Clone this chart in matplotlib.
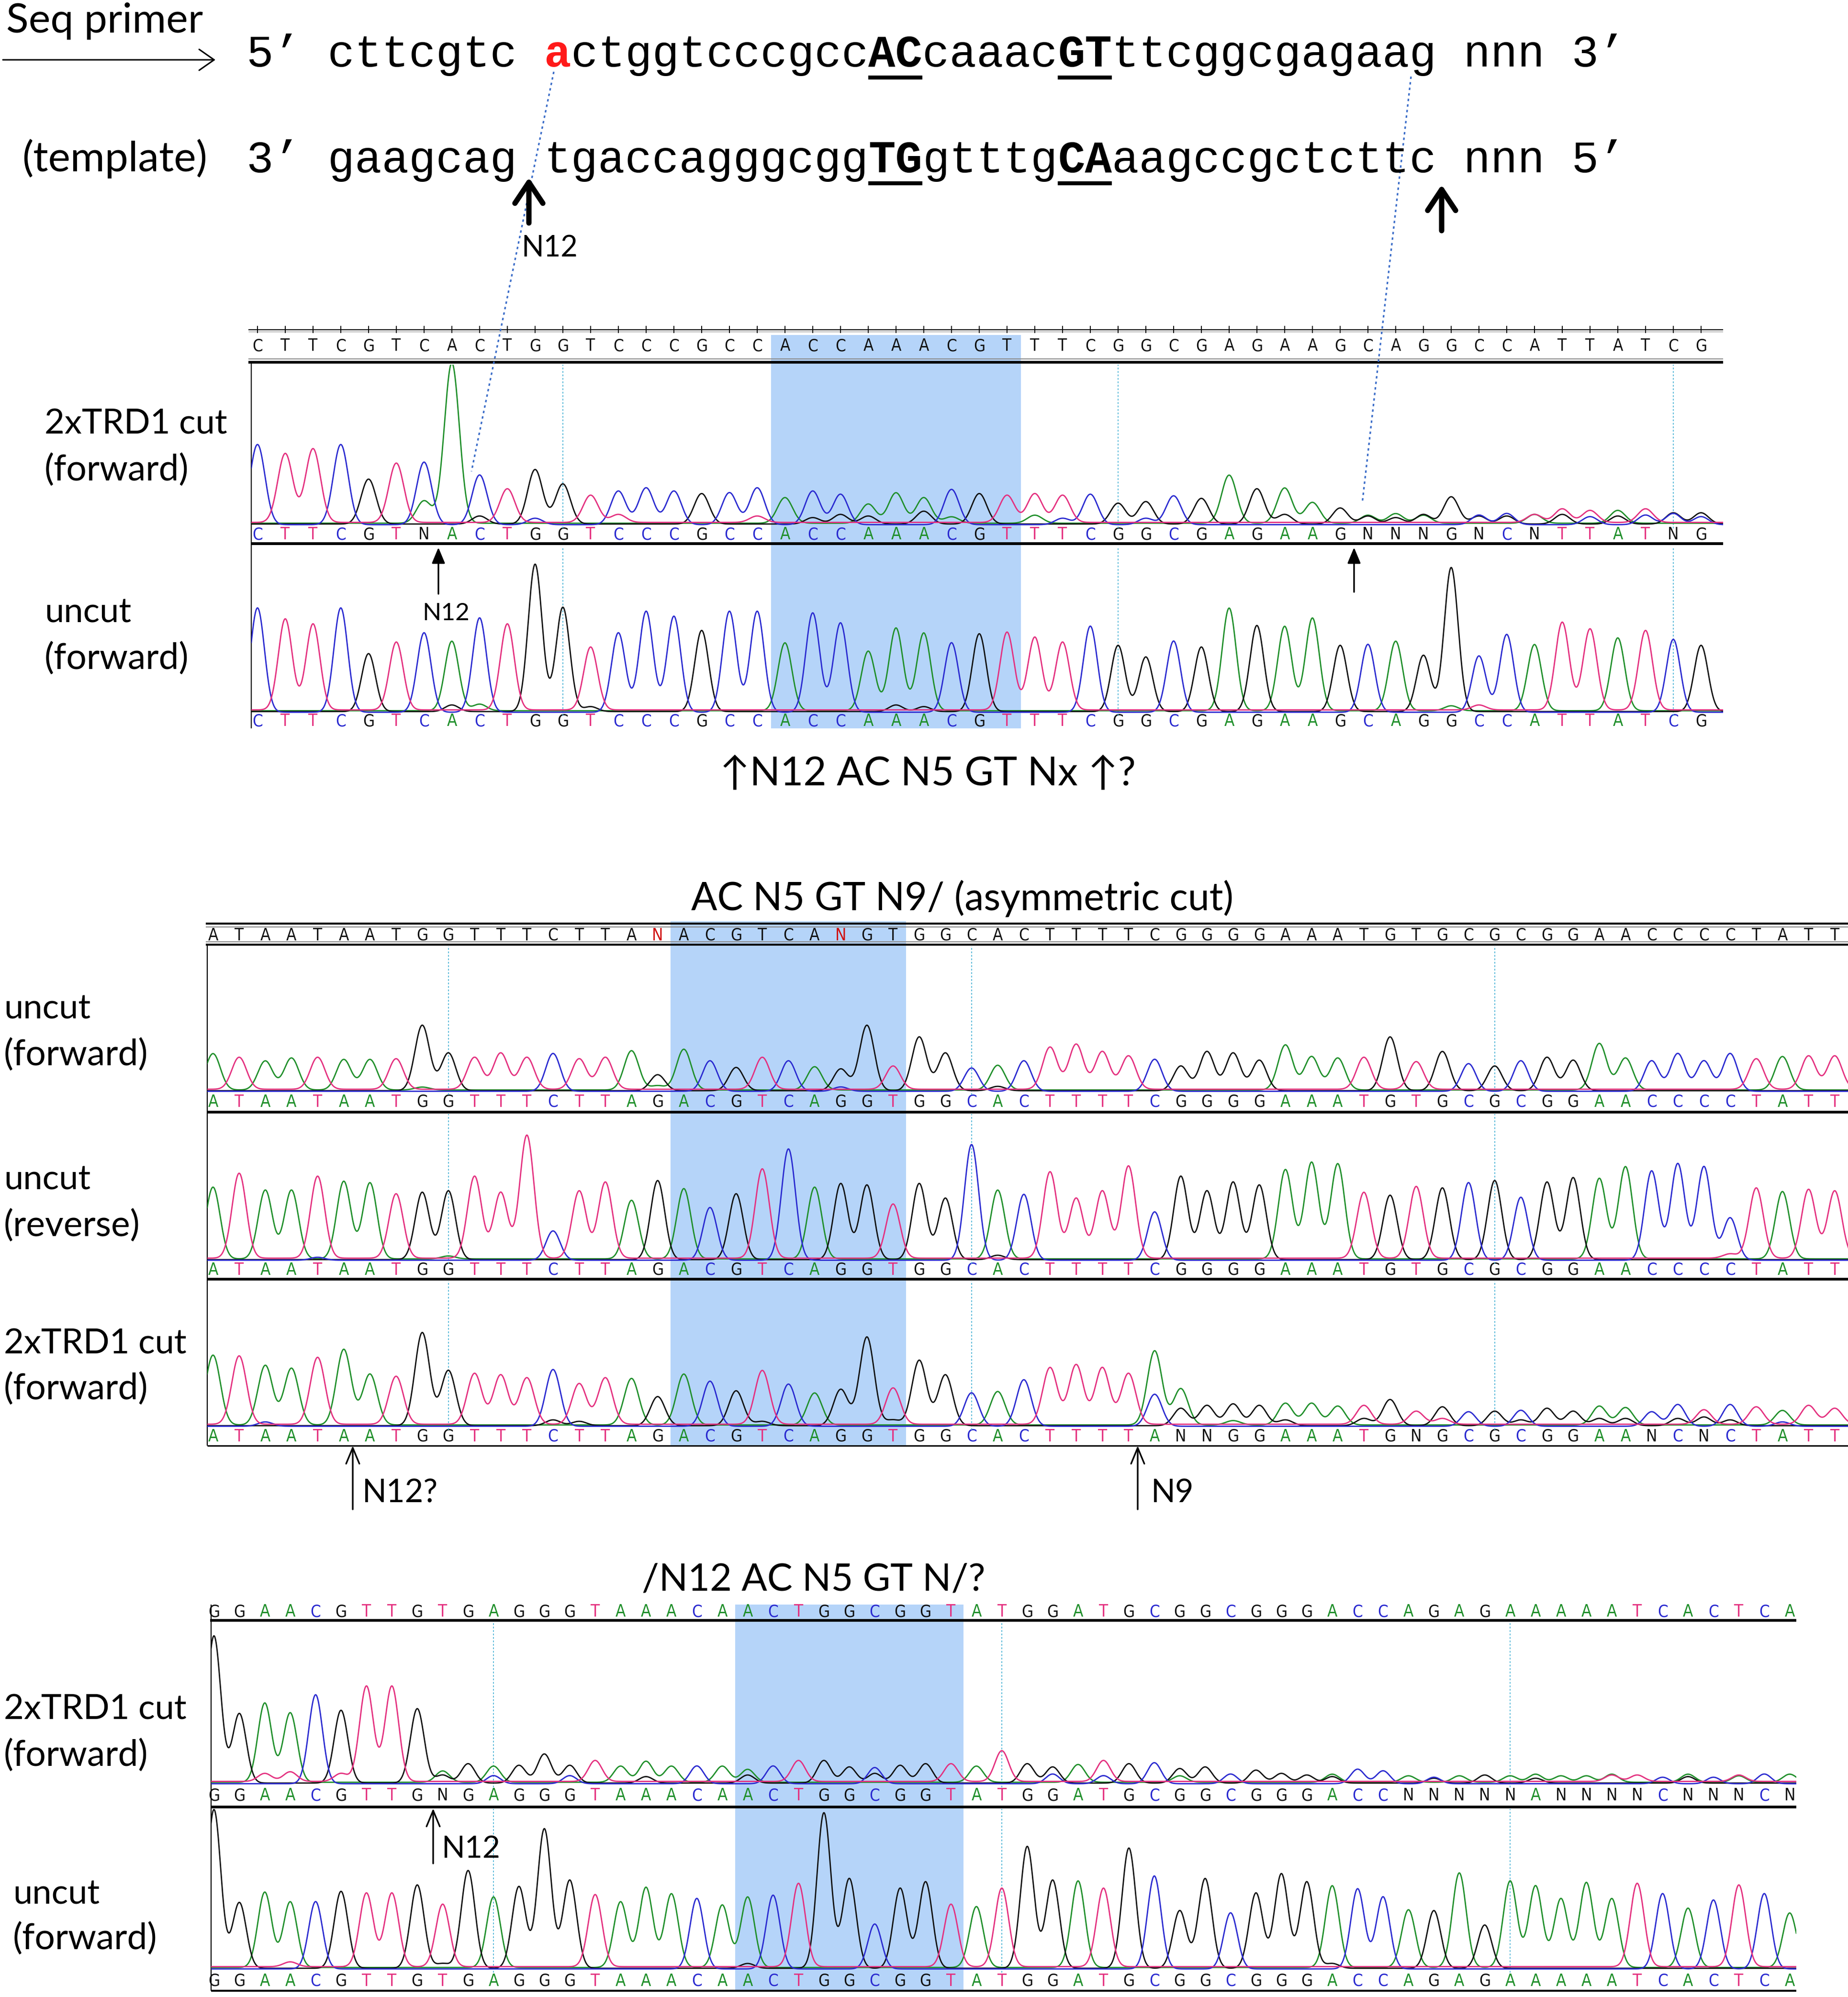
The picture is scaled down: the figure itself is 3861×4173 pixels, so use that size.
import numpy as np
import matplotlib
matplotlib.use("Agg")
import matplotlib.pyplot as plt

W, H, DPI = 3862, 4173, 100

# ------------------------------------------------------------------ data
primer_segments = [("5\u2019 cttcgtc ", "plain"), ("a", "red"), ("ctggtcccgcc", "plain"),
                   ("AC", "boldul"), ("caaac", "plain"), ("GT", "boldul"),
                   ("ttcggcgagaag nnn 3\u2019", "plain")]
template_segments = [("3\u2019 gaagcag ", "plain"), ("tgaccagggcgg", "plain"), ("TG", "boldul"),
                     ("gtttg", "plain"), ("CA", "boldul"), ("aagccgctcttc nnn 5\u2019", "plain")]

# panel 1 : sequence, base calls, peak channel and peak heights
p1_ref = "CTTCGTCACTGGTCCCGCCACCAAACGTTTCGGCGAGAAGCAGGCCATTATCG"
p1_cut_calls = "CTTCGTNACTGGTCCCGCCACCAAACGTTTCGGCGAGAAGNNNGNCNTTATNG"
p1_cut_peaks = "CTTCGTCACTGGTCCCGCCACCAAACGTTTCGGCGAGAAGGAGGGCATTATCG"
p1_cut_h = [0.50, 0.43, 0.46, 0.50, 0.28, 0.37, 0.39, 1.00, 0.31, 0.21,
            0.34, 0.25, 0.17, 0.21, 0.23, 0.21, 0.19, 0.20, 0.23, 0.16,
            0.21, 0.19, 0.12, 0.19, 0.16, 0.22, 0.19, 0.17, 0.18, 0.17,
            0.19, 0.13, 0.14, 0.18, 0.16, 0.30, 0.18, 0.22, 0.13, 0.10,
            0.05, 0.06, 0.06, 0.17, 0.05, 0.07, 0.055, 0.085, 0.075, 0.08,
            0.085, 0.07, 0.07]
p1_cut_minor = [(6, 'A', 0.14), (8, 'G', 0.05), (10, 'C', 0.04), (13, 'T', 0.05), (18, 'T', 0.04),
                (20, 'G', 0.04), (21, 'G', 0.06), (22, 'G', 0.05), (24, 'G', 0.08), (25, 'A', 0.04),
                (28, 'A', 0.05), (29, 'C', 0.04), (32, 'C', 0.04), (36, 'G', 0.04), (37, 'G', 0.06),
                (40, 'A', 0.05), (41, 'G', 0.04), (42, 'A', 0.05), (44, 'C', 0.06), (45, 'G', 0.05),
                (46, 'T', 0.05), (47, 'G', 0.06), (48, 'C', 0.05), (49, 'G', 0.05), (50, 'C', 0.06),
                (51, 'G', 0.07), (52, 'C', 0.05)]
p1_unc_calls = p1_ref
p1_unc_h = [0.63, 0.55, 0.52, 0.63, 0.35, 0.41, 0.48, 0.42, 0.57, 0.52,
            0.89, 0.63, 0.38, 0.48, 0.61, 0.58, 0.49, 0.61, 0.61, 0.41,
            0.60, 0.54, 0.36, 0.50, 0.47, 0.42, 0.47, 0.47, 0.44, 0.41,
            0.52, 0.40, 0.33, 0.43, 0.39, 0.62, 0.52, 0.51, 0.56, 0.40,
            0.41, 0.42, 0.34, 0.87, 0.34, 0.47, 0.40, 0.53, 0.49, 0.44,
            0.48, 0.44, 0.40]
p1_unc_minor = [(7, 'G', 0.04), (8, 'A', 0.04), (12, 'G', 0.03), (23, 'G', 0.04),
                (24, 'G', 0.03), (43, 'A', 0.03), (44, 'T', 0.03)]

# panel 2
p2_ref = "ATAATAATGGTTTCTTANACGTCANGTGGCACTTTTCGGGGAAATGTGCGCGGAACCCCTATT"
p2_unc_calls = "ATAATAATGGTTTCTTAGACGTCAGGTGGCACTTTTCGGGGAAATGTGCGCGGAACCCCTATT"
p2_fwd_h = [0.25, 0.22, 0.20, 0.22, 0.22, 0.21, 0.21, 0.21, 0.45, 0.26,
            0.22, 0.25, 0.22, 0.26, 0.21, 0.22, 0.27, 0.11, 0.28, 0.21,
            0.16, 0.22, 0.21, 0.16, 0.15, 0.45, 0.16, 0.37, 0.26, 0.16,
            0.17, 0.21, 0.29, 0.31, 0.26, 0.23, 0.22, 0.17, 0.27, 0.26,
            0.21, 0.31, 0.23, 0.22, 0.22, 0.37, 0.19, 0.27, 0.19, 0.17,
            0.21, 0.23, 0.21, 0.32, 0.22, 0.21, 0.26, 0.21, 0.26, 0.21,
            0.23, 0.23, 0.23]
p2_fwd_minor = [(8, 'A', 0.02), (17, 'A', 0.03), (24, 'C', 0.03), (30, 'G', 0.03)]
p2_rev_h = [0.49, 0.58, 0.47, 0.47, 0.56, 0.53, 0.52, 0.44, 0.46, 0.47,
            0.56, 0.45, 0.84, 0.20, 0.46, 0.52, 0.40, 0.54, 0.48, 0.36,
            0.45, 0.61, 0.76, 0.49, 0.52, 0.51, 0.37, 0.52, 0.42, 0.79,
            0.47, 0.45, 0.59, 0.41, 0.46, 0.63, 0.33, 0.57, 0.47, 0.53,
            0.51, 0.61, 0.66, 0.65, 0.45, 0.44, 0.49, 0.49, 0.53, 0.54,
            0.43, 0.53, 0.56, 0.55, 0.63, 0.61, 0.66, 0.64, 0.29, 0.48,
            0.46, 0.47, 0.46]
p2_rev_minor = [(4, 'C', 0.02), (9, 'A', 0.02), (30, 'G', 0.03), (58, 'T', 0.03)]
p2_cut_calls = "ATAATAATGGTTTCTTAGACGTCAGGTGGCACTTTTANNGGAAATGNGCGCGGAANCNCTATT"
p2_cut_peaks = "ATAATAATGGTTTCTTAGACGTCAGGTGGCACTTTTAAGGGAAATGTGCGCGGAACCTCTATT"
p2_cut_h = [0.48, 0.47, 0.41, 0.39, 0.46, 0.52, 0.35, 0.33, 0.64, 0.38,
            0.35, 0.34, 0.32, 0.39, 0.28, 0.32, 0.32, 0.20, 0.35, 0.31,
            0.24, 0.37, 0.29, 0.22, 0.25, 0.61, 0.25, 0.45, 0.35, 0.23,
            0.23, 0.32, 0.39, 0.41, 0.39, 0.35, 0.51, 0.25, 0.14, 0.15,
            0.14, 0.15, 0.15, 0.13, 0.13, 0.18, 0.09, 0.13, 0.10, 0.10,
            0.11, 0.12, 0.10, 0.13, 0.12, 0.10, 0.15, 0.10, 0.15, 0.12,
            0.10, 0.13, 0.11]
p2_cut_minor = [(2, 'C', 0.03), (13, 'G', 0.04), (14, 'G', 0.03), (21, 'G', 0.03), (26, 'G', 0.04),
                (36, 'C', 0.22), (37, 'G', 0.12), (39, 'A', 0.03), (41, 'G', 0.04), (44, 'G', 0.05),
                (47, 'T', 0.04), (50, 'G', 0.04), (53, 'G', 0.05), (54, 'G', 0.05), (56, 'G', 0.05),
                (57, 'G', 0.06), (58, 'G', 0.04), (60, 'C', 0.03)]

# panel 3
p3_ref = "GGAACGTTGTGAGGGTAAACAACTGGCGGTATGGATGCGGCGGGACCAGAGAAAAATCACTCA"
p3_cut_calls = "GGAACGTTGNGAGGGTAAACAACTGGCGGTATGGATGCGGCGGGACCNNNNNANNNNCNNNCN"
p3_cut_peaks = "GGAACGTTGAGAGGGTAAACAACTGGCGGTATGGATGCGGCGGGACCAGAGAAAAATCACTCA"
p3_cut_h = [0.91, 0.43, 0.49, 0.43, 0.55, 0.45, 0.59, 0.59, 0.46, 0.07,
            0.12, 0.10, 0.11, 0.18, 0.11, 0.13, 0.10, 0.13, 0.10, 0.11,
            0.10, 0.08, 0.11, 0.13, 0.14, 0.10, 0.10, 0.11, 0.12, 0.11,
            0.10, 0.19, 0.12, 0.10, 0.11, 0.13, 0.12, 0.13, 0.09, 0.10,
            0.06, 0.08, 0.06, 0.05, 0.05, 0.09, 0.08, 0.04, 0.03, 0.04,
            0.05, 0.04, 0.05, 0.04, 0.04, 0.05, 0.04, 0.04, 0.05, 0.04,
            0.04, 0.06, 0.05]
p3_cut_minor = [(2, 'T', 0.05), (3, 'T', 0.06), (5, 'T', 0.05), (9, 'G', 0.05), (11, 'C', 0.05),
                (14, 'C', 0.05), (17, 'G', 0.04), (21, 'G', 0.05), (26, 'G', 0.06), (33, 'C', 0.06),
                (35, 'C', 0.05), (38, 'A', 0.04), (44, 'G', 0.04), (48, 'C', 0.04), (52, 'G', 0.03),
                (55, 'T', 0.04), (58, 'G', 0.04), (60, 'A', 0.04)]
p3_unc_h = [0.99, 0.41, 0.47, 0.41, 0.42, 0.48, 0.46, 0.46, 0.52, 0.39,
            0.61, 0.44, 0.51, 0.87, 0.55, 0.45, 0.41, 0.50, 0.46, 0.44,
            0.39, 0.44, 0.46, 0.52, 0.97, 0.56, 0.28, 0.50, 0.54, 0.39,
            0.38, 0.49, 0.76, 0.55, 0.54, 0.49, 0.75, 0.58, 0.36, 0.56,
            0.35, 0.47, 0.59, 0.54, 0.51, 0.50, 0.45, 0.36, 0.36, 0.59,
            0.27, 0.54, 0.51, 0.43, 0.53, 0.43, 0.52, 0.47, 0.37, 0.43,
            0.51, 0.47, 0.34]
p3_unc_minor = [(3, 'T', 0.03), (9, 'G', 0.03), (21, 'G', 0.03), (44, 'G', 0.03)]

# highlighted motif (first, last base index) and marker positions per panel
p1_box = (19, 27)
p2_box = (18, 26)
p3_box = (21, 29)
p1_marks = [11, 31, 51]
p2_marks = [9, 29, 49]
p3_marks = [11, 31, 51]

titles = ["\u2191N12 AC N5 GT Nx \u2191?", "AC N5 GT N9/ (asymmetric cut)", "/N12 AC N5 GT N/?"]

# ------------------------------------------------------------------ style
COL = {'A': '#1f8f2a', 'C': '#2a2ad0', 'G': '#111111', 'T': '#e4307f', 'N': '#111111'}
OFF = {'A': 0.011, 'C': 0.002, 'G': 0.006, 'T': 0.016}
SHADE = '#b5d4f9'
DOT = '#4ab3d6'
LAB = dict(family=['Lato', 'DejaVu Sans'], color='black')
LET = dict(family='DejaVu Sans', fontsize=25, fontstretch='condensed', ha='center', va='center')

fig = plt.figure(figsize=(W / DPI, H / DPI), dpi=DPI)
fig.patch.set_facecolor('white')


def rect(l, t, r, b):
    return [l / W, 1 - b / H, (r - l) / W, (b - t) / H]


def idx(P, px):
    return (px - P['x0']) / P['s']


def panel_axes(P):
    ax = fig.add_axes(rect(P['left'], P['top'], P['right'], P['bottom']), zorder=1)
    ax.set_facecolor('none')
    ax.set_xlim(idx(P, P['left']), idx(P, P['right']))
    ax.set_ylim(P['bottom'], P['top'])
    ax.axis('off')
    return ax


def hline(ax, P, y, lw, color='black', x_from=None):
    xa = idx(P, P['left'] if x_from is None else x_from)
    ax.hlines(y, xa, idx(P, P['right']), color=color, lw=lw)


def base_row(ax, y, calls, colored=True, red_n=False):
    for i, b in enumerate(calls):
        if colored:
            c = COL[b]
        else:
            c = '#d01010' if (red_n and b == 'N') else '#111111'
        ax.text(i, y, b, color=c, **LET)


def trace(P, t_ax, b_ax, base_px, peaks, heights, minor, sig, marks):
    ax = fig.add_axes(rect(P['border'], t_ax, P['right'], b_ax), zorder=2)
    ax.set_facecolor('none')
    ax.axis('off')
    xa, xb = idx(P, P['border']), idx(P, P['right'])
    ax.set_xlim(xa, xb)
    span = base_px - t_ax
    ax.set_ylim((base_px - b_ax) / span, 1.0)
    for m in marks:
        ax.axvline(m, color=DOT, lw=1.3, ls=(0, (2, 2)), zorder=1)
    xs = np.linspace(xa, xb, 6000)
    for ch in 'AGCT':
        y = np.full_like(xs, OFF[ch])
        for i, (b, h) in enumerate(zip(peaks, heights)):
            if b == ch:
                y += h * np.exp(-0.5 * ((xs - i) / sig) ** 2)
        for (i, b, h) in minor:
            if b == ch:
                y += h * np.exp(-0.5 * ((xs - i) / sig) ** 2)
        ax.plot(xs, y, color=COL[ch], lw=2.0, zorder=2, solid_joinstyle='round')
    return ax


# ------------------------------------------------------------------ panel 1
P1 = dict(left=519, right=3600, top=676, bottom=1526, x0=538, s=58.0, border=525)
a1 = panel_axes(P1)
a1.fill_between([p1_box[0] - 0.5, p1_box[1] + 0.5], 700, 1522, color=SHADE, lw=0, zorder=0)
hline(a1, P1, 689, 1.6)
hline(a1, P1, 693, 1.0, '#9a9a9a')
a1.vlines(range(len(p1_ref)), 681, 696, color='black', lw=1.4)
base_row(a1, 723, p1_ref, colored=False)
hline(a1, P1, 750, 1.5, '#8a8a8a')
hline(a1, P1, 757, 4.0)
a1.vlines(idx(P1, P1['border']), 757, 1522, color='black', lw=1.6)
trace(P1, 762, 1104, 1097, p1_cut_peaks, p1_cut_h, p1_cut_minor, 0.27, p1_marks)
base_row(a1, 1117, p1_cut_calls)
hline(a1, P1, 1136, 4.2, x_from=P1['border'])
trace(P1, 1143, 1496, 1489, p1_ref, p1_unc_h, p1_unc_minor, 0.25, p1_marks)
base_row(a1, 1507, p1_unc_calls)

# ------------------------------------------------------------------ panel 2
P2 = dict(left=430, right=3862, top=1915, bottom=3026, x0=445, s=54.65, border=433)
a2 = panel_axes(P2)
a2.fill_between([p2_box[0] - 0.5, p2_box[1] + 0.5], 1925, 3021, color=SHADE, lw=0, zorder=0)
hline(a2, P2, 1930, 3.0)
hline(a2, P2, 1937, 1.5, '#8a8a8a')
base_row(a2, 1955, p2_ref, colored=False, red_n=True)
hline(a2, P2, 1968, 1.5, '#8a8a8a')
hline(a2, P2, 1974, 3.0)
a2.vlines(idx(P2, P2['border']), 1974, 3021, color='black', lw=1.6)
trace(P2, 1977, 2288, 2281, p2_unc_calls, p2_fwd_h, p2_fwd_minor, 0.28, p2_marks)
base_row(a2, 2303, p2_unc_calls)
hline(a2, P2, 2324, 4.0, x_from=P2['border'])
trace(P2, 2328, 2641, 2634, p2_unc_calls, p2_rev_h, p2_rev_minor, 0.27, p2_marks)
base_row(a2, 2654, p2_unc_calls)
hline(a2, P2, 2673, 4.0, x_from=P2['border'])
trace(P2, 2677, 2988, 2981, p2_cut_peaks, p2_cut_h, p2_cut_minor, 0.28, p2_marks)
base_row(a2, 3002, p2_cut_calls)
hline(a2, P2, 3021, 2.2, x_from=P2['border'])

# ------------------------------------------------------------------ panel 3
P3 = dict(left=439, right=3753, top=3340, bottom=4166, x0=447, s=53.1, border=441)
a3 = panel_axes(P3)
a3.fill_between([p3_box[0] - 0.5, p3_box[1] + 0.5], 3353, 4160, color=SHADE, lw=0, zorder=0)
base_row(a3, 3368, p3_ref)
hline(a3, P3, 3386, 4.0)
a3.vlines(idx(P3, P3['border']), 3353, 4160, color='black', lw=1.6)
trace(P3, 3390, 3735, 3728, p3_cut_peaks, p3_cut_h, p3_cut_minor, 0.27, p3_marks)
base_row(a3, 3752, p3_cut_calls)
hline(a3, P3, 3776, 4.0, x_from=P3['border'])
trace(P3, 3780, 4122, 4115, p3_ref, p3_unc_h, p3_unc_minor, 0.27, p3_marks)
base_row(a3, 4140, p3_ref)
hline(a3, P3, 4160, 3.0, x_from=P3['border'])

# ------------------------------------------------------------------ overlay (text, arrows)
ov = fig.add_axes([0, 0, 1, 1], zorder=10)
ov.set_facecolor('none')
ov.set_xlim(0, W)
ov.set_ylim(H, 0)
ov.axis('off')

MONO_X0, ADV = 515, 56.5
MONO_FS = ADV / 0.6 * 72 / DPI


def mono_row(segments, y):
    col = 0
    for text, kind in segments:
        x = MONO_X0 + col * ADV
        kw = dict(family=['Liberation Mono', 'DejaVu Sans Mono'], fontsize=MONO_FS,
                  ha='left', va='baseline')
        if kind == 'red':
            ov.text(x, y, text, color='#ff1a1a', fontweight='bold', **kw)
        elif kind == 'boldul':
            ov.text(x, y, text, color='black', fontweight='bold', **kw)
            ov.plot([x, x + len(text) * ADV], [y + 23, y + 23], color='black', lw=6.0,
                    solid_capstyle='butt')
        else:
            ov.text(x, y, text, color='black', **kw)
        col += len(text)


ov.text(13, 68, "Seq primer", fontsize=62, ha='left', va='baseline', **LAB)
ov.annotate('', xy=(450, 125), xytext=(6, 125),
            arrowprops=dict(arrowstyle='->,head_length=0.5,head_width=0.35', lw=2.2,
                            color='black', mutation_scale=45, shrinkA=0, shrinkB=0))
mono_row(primer_segments, 139)
ov.text(46, 358, "(template)", fontsize=63, ha='left', va='baseline', **LAB)
mono_row(template_segments, 360)

# big arrows under template
for xa, (yt, yb) in [(1105, (371, 466)), (3012, (386, 482))]:
    ov.annotate('', xy=(xa, yt), xytext=(xa, yb),
                arrowprops=dict(arrowstyle='->,head_length=0.45,head_width=0.3', lw=8,
                                color='black', mutation_scale=70, shrinkA=0, shrinkB=0))
ov.text(1148, 518, "N12", fontsize=44, ha='center', va='center', **LAB)

# dotted connector lines
ov.plot([1157, 985], [150, 985], color='#3a6cc8', lw=2.4, ls=(0, (1.5, 2.0)))
ov.plot([2948, 2846], [160, 1052], color='#3a6cc8', lw=2.4, ls=(0, (1.5, 2.0)))


# panel labels
def label2(x, y1, y2, l1, l2):
    ov.text(x, y1, l1, fontsize=52, ha='left', va='center', **LAB)
    ov.text(x, y2, l2, fontsize=54, ha='left', va='center', **LAB)


label2(93, 886, 982, "2xTRD1 cut", "(forward)")
label2(93, 1280, 1376, "uncut", "(forward)")
label2(8, 2108, 2204, "uncut", "(forward)")
label2(8, 2465, 2561, "uncut", "(reverse)")
label2(8, 2808, 2902, "2xTRD1 cut", "(forward)")
label2(8, 3572, 3668, "2xTRD1 cut", "(forward)")
label2(27, 3958, 4051, "uncut", "(forward)")

# titles
ov.text(1938, 1618, titles[0], fontsize=60, ha='center', va='center', **LAB)
ov.text(2011, 1877, titles[1], fontsize=58, ha='center', va='center', **LAB)
ov.text(1700, 3301, titles[2], fontsize=57, ha='center', va='center', **LAB)


# small arrows in panels
def up_arrow(x, yt, yb, style='->', ms=40):
    ov.annotate('', xy=(x, yt), xytext=(x, yb),
                arrowprops=dict(arrowstyle=style + ',head_length=0.6,head_width=0.25', lw=2.4,
                                color='black', mutation_scale=ms, shrinkA=0, shrinkB=0))


up_arrow(916, 1144, 1241, '-|>', 34)
ov.text(932, 1282, "N12", fontsize=37, ha='center', va='center', **LAB)
up_arrow(2829, 1144, 1237, '-|>', 34)
up_arrow(737, 3021, 3154)
ov.text(757, 3120, "N12?", fontsize=48, ha='left', va='center', **LAB)
up_arrow(2377, 3021, 3154)
ov.text(2405, 3120, "N9", fontsize=48, ha='left', va='center', **LAB)
up_arrow(905, 3779, 3894)
ov.text(922, 3864, "N12", fontsize=46, ha='left', va='center', **LAB)

fig.savefig("out.png", dpi=DPI, facecolor='white')
